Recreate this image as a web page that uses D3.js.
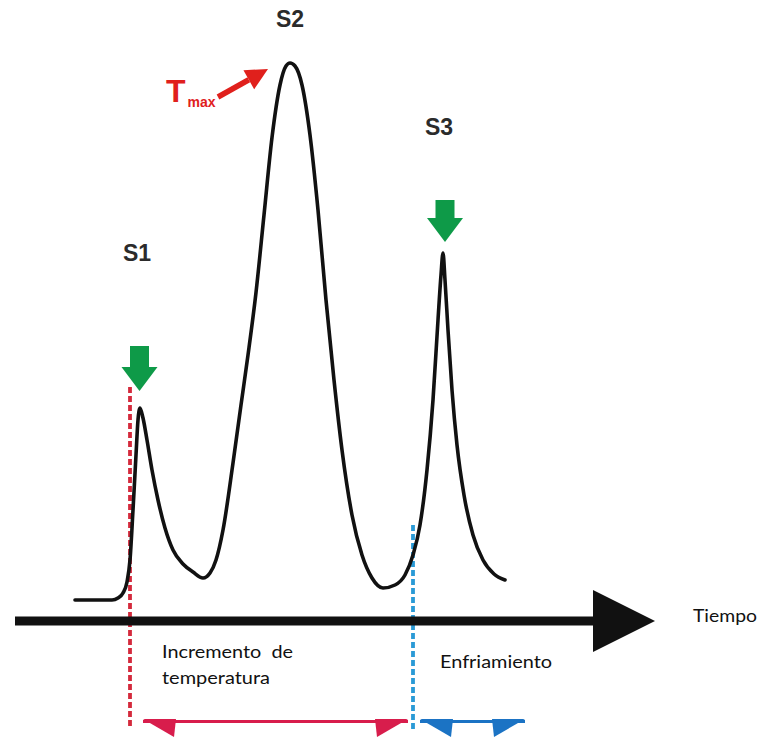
<!DOCTYPE html>
<html>
<head>
<meta charset="utf-8">
<script src="https://cdn.jsdelivr.net/npm/d3@7"></script>
<style>
  html, body { margin: 0; padding: 0; background: #fff; }
  svg { display: block; }
</style>
</head>
<body>
<svg id="chart" width="758" height="740"></svg>
<script>
// Signal trace over time (arbitrary units)
const time = [0, 4, 7.4, 8.6, 9.6, 10.4, 11, 11.6, 12.2, 12.6, 13, 13.6, 14.4, 15.4, 16.6, 18, 19.6, 21.6, 23.6, 25.6,
  27, 28.2, 29.6, 31.6, 33.2, 34.6, 36.2, 37.8, 39.4, 41, 42.2, 43, 44, 45.4, 47, 48.6, 50.2, 51.8, 53.4, 55.4,
  57.4, 59.4, 61.6, 64, 66, 67.6, 69, 70.4, 71.6, 72.6, 73.2, 73.6, 74, 74.6, 75.4, 76.4, 77.8, 79.6, 81.6, 83.8, 86];
const signal = [0, 0, 0, 0.4, 1.4, 3.6, 8, 18, 29, 36, 38.4, 36.4, 32, 26, 20, 14.4, 10, 7.2, 5.6, 4.4,
  5.4, 8, 14, 27.4, 39, 49, 61.5, 77, 92.5, 103, 106.8, 107.4, 106.8, 103, 93, 78, 60, 44, 30, 17,
  9, 4.4, 2.4, 3, 5, 9, 15, 26, 40, 56, 65, 69.4, 64, 54, 42, 31, 21, 13, 8, 5.2, 4];

// Peaks marked on the trace
const peakNames = ["S1", "S2", "S3"];
const peakTimes = [13, 43, 73.6];
const peakValues = [38.4, 107.4, 69.4];

// Phase boundaries and labels
const heatingStart = 11;
const coolingStart = 67.6;
const axisLabel = "Tiempo";
const heatingLabel = ["Incremento  de", "temperatura"];
const coolingLabel = "Enfriamiento";

const svg = d3.select("#chart");
const x = d3.scaleLinear().domain([0, 86]).range([75, 505]);
const y = d3.scaleLinear().domain([0, 107.4]).range([600, 63]);

const axisY = y(-4.2);

// Phase boundary markers (dashed)
svg.append("line")
  .attr("x1", x(heatingStart)).attr("x2", x(heatingStart))
  .attr("y1", y(42.6)).attr("y2", 727)
  .attr("stroke", "#d42a3c").attr("stroke-width", 3.8)
  .attr("stroke-dasharray", "6,3");
svg.append("line")
  .attr("x1", x(coolingStart)).attr("x2", x(coolingStart))
  .attr("y1", y(15)).attr("y2", 732)
  .attr("stroke", "#2a9ad6").attr("stroke-width", 3.8)
  .attr("stroke-dasharray", "6,3");

// Time axis with arrowhead
svg.append("line")
  .attr("x1", x(-12)).attr("x2", x(104.4))
  .attr("y1", axisY).attr("y2", axisY)
  .attr("stroke", "#111").attr("stroke-width", 9);
svg.append("path")
  .attr("d", `M${x(103.6)},${axisY - 31} L${x(116)},${axisY} L${x(103.6)},${axisY + 31} Z`)
  .attr("fill", "#111");

// Signal trace
const line = d3.line()
  .x((d, i) => x(time[i]))
  .y(d => y(d))
  .curve(d3.curveMonotoneX);
svg.append("path")
  .datum(signal)
  .attr("d", line)
  .attr("fill", "none")
  .attr("stroke", "#111")
  .attr("stroke-width", 3.6)
  .attr("stroke-linejoin", "round")
  .attr("stroke-linecap", "round");

// Peak labels
const labelY = [261, 27, 135];
peakNames.forEach((name, i) => {
  svg.append("text")
    .attr("x", x(peakTimes[i]) - (i === 0 ? 3 : i === 2 ? 4 : 0))
    .attr("y", labelY[i])
    .attr("text-anchor", "middle")
    .attr("font-family", "Liberation Sans, Arial, sans-serif")
    .attr("font-weight", "bold")
    .attr("font-size", 23)
    .attr("fill", "#2b2b2b")
    .text(name);
});

// Green markers above S1 and S3
function downArrow(cx, tipY, shaftLen) {
  const sw = 9.5, hw = 18, hl = 24;
  const headTop = tipY - hl, top = headTop - shaftLen;
  return `M${cx - sw},${top} L${cx + sw},${top} L${cx + sw},${headTop} L${cx + hw},${headTop}` +
         ` L${cx},${tipY} L${cx - hw},${headTop} L${cx - sw},${headTop} Z`;
}
svg.append("path")
  .attr("d", downArrow(x(peakTimes[0]) - 0.5, y(peakValues[0]) - 17, 21))
  .attr("fill", "#0e9a48");
svg.append("path")
  .attr("d", downArrow(x(peakTimes[2]) + 2, y(peakValues[2]) - 11, 18))
  .attr("fill", "#0e9a48");

// Tmax pointer
const tx0 = 218, ty0 = 97, tx1 = x(peakTimes[1]) - 22, ty1 = y(peakValues[1]) + 6;
const ang = Math.atan2(ty1 - ty0, tx1 - tx0);
const headLen = 22, headHalf = 11;
const bx = tx1 - headLen * Math.cos(ang), by = ty1 - headLen * Math.sin(ang);
svg.append("line")
  .attr("x1", tx0).attr("y1", ty0).attr("x2", bx).attr("y2", by)
  .attr("stroke", "#e0201c").attr("stroke-width", 5.5);
svg.append("path")
  .attr("d", `M${tx1},${ty1} L${bx + headHalf * Math.sin(ang)},${by - headHalf * Math.cos(ang)} L${bx - headHalf * Math.sin(ang)},${by + headHalf * Math.cos(ang)} Z`)
  .attr("fill", "#e0201c");
const tmax = svg.append("text")
  .attr("x", 166).attr("y", 102)
  .attr("font-family", "Liberation Sans, Arial, sans-serif")
  .attr("font-weight", "bold")
  .attr("fill", "#e0201c");
tmax.append("tspan").attr("font-size", 32).text("T");
tmax.append("tspan").attr("font-size", 14).attr("dx", 2).attr("dy", 5).text("max");

// Phase labels
const fontBody = "Lato, Open Sans, sans-serif";
svg.append("text")
  .attr("x", 693).attr("y", 622)
  .attr("font-family", fontBody).attr("font-size", 18)
  .attr("textLength", 64).attr("lengthAdjust", "spacingAndGlyphs")
  .attr("fill", "#111").text(axisLabel);
svg.append("text")
  .attr("x", 162).attr("y", 658)
  .attr("font-family", fontBody).attr("font-size", 18)
  .attr("textLength", 131).attr("lengthAdjust", "spacingAndGlyphs")
  .attr("fill", "#111").attr("xml:space", "preserve").text(heatingLabel[0]);
svg.append("text")
  .attr("x", 162).attr("y", 684)
  .attr("font-family", fontBody).attr("font-size", 18)
  .attr("textLength", 108).attr("lengthAdjust", "spacingAndGlyphs")
  .attr("fill", "#111").text(heatingLabel[1]);
svg.append("text")
  .attr("x", 440).attr("y", 668)
  .attr("font-family", fontBody).attr("font-size", 18)
  .attr("textLength", 112).attr("lengthAdjust", "spacingAndGlyphs")
  .attr("fill", "#111").text(coolingLabel);

// Duration brackets for each phase
function bracket(xa, xb, color) {
  const g = svg.append("g").attr("fill", color);
  g.append("rect").attr("x", xa).attr("y", 720).attr("width", xb - xa).attr("height", 3);
  g.append("path").attr("d", `M${xa},719 L${xa + 33},719 L${xa + 31},737 Z`);
  g.append("path").attr("d", `M${xb},719 L${xb - 33},719 L${xb - 31},737 Z`);
}
bracket(x(heatingStart + 2.6), x(coolingStart - 1), "#d81d4c");
bracket(x(coolingStart + 1.4), x(coolingStart + 22.4), "#1b73c4");
</script>
</body>
</html>
